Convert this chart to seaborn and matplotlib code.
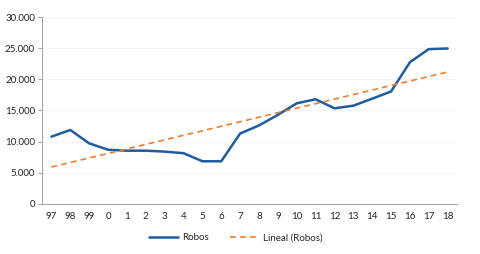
import numpy as np
import pandas as pd
import matplotlib
matplotlib.use("Agg")
import matplotlib.pyplot as plt
import seaborn as sns
from matplotlib.ticker import FuncFormatter, FixedLocator
from matplotlib.lines import Line2D

# Data
years = ["97", "98", "99", "0", "1", "2", "3", "4", "5", "6", "7",
         "8", "9", "10", "11", "12", "13", "14", "15", "16", "17", "18"]
robos = [10800, 11870, 9730, 8700, 8550, 8550, 8400, 8150, 6850, 6850, 11300,
         12600, 14300, 16150, 16800, 15350, 15770, 16900, 18050, 22750, 24850, 24950]

BLUE = "#1F5B9F"
ORANGE = "#ED7D31"


def main():
    sns.set_theme(style="white")
    plt.rcParams["font.family"] = ["Lato", "DejaVu Sans"]

    df = pd.DataFrame({"idx": np.arange(len(years)), "robos": robos})

    fig = plt.figure(figsize=(4.81, 2.54), dpi=100)
    ax = fig.add_axes([0.0873, 0.197, 0.863, 0.736])

    sns.lineplot(data=df, x="idx", y="robos", color=BLUE, linewidth=1.8, ax=ax)
    # linear trend line, as Excel's "Lineal" trendline
    sns.regplot(data=df, x="idx", y="robos", scatter=False, ci=None, ax=ax,
                truncate=True,
                line_kws={"color": ORANGE, "linewidth": 1.2, "linestyle": (0, (3.5, 2.5))})

    ax.set_xlim(-0.5, len(years) - 0.5)
    ax.set_ylim(0, 30000)
    ax.set_yticks(np.arange(0, 30001, 5000))
    ax.yaxis.set_major_formatter(FuncFormatter(lambda v, p: f"{int(v):,}".replace(",", ".")))
    ax.grid(axis="y", color="#F3F3F3", linewidth=0.8)
    ax.set_axisbelow(True)

    ax.set_xticks(np.arange(len(years)))
    ax.set_xticklabels(years)
    ax.xaxis.set_minor_locator(FixedLocator(np.arange(-0.5, len(years), 1)))
    ax.tick_params(axis="x", which="major", length=0, labelsize=7, pad=6, colors="#222222")
    ax.tick_params(axis="x", which="minor", length=3, width=0.8, color="#A6A6A6", direction="out")
    ax.tick_params(axis="y", which="major", length=3, width=0.8, color="#A6A6A6",
                   labelsize=7, pad=2, left=True)
    ax.tick_params(axis="y", colors="#A6A6A6", labelcolor="#222222")

    for s in ["top", "right"]:
        ax.spines[s].set_visible(False)
    for s in ["left", "bottom"]:
        ax.spines[s].set_color("#A6A6A6")
        ax.spines[s].set_linewidth(0.8)

    ax.set_xlabel("")
    ax.set_ylabel("")

    handles = [Line2D([], [], color=BLUE, linewidth=1.8),
               Line2D([], [], color=ORANGE, linewidth=1.2, linestyle=(0, (3.5, 2.5)))]
    fig.legend(handles, ["Robos", "Lineal (Robos)"], loc="center",
               bbox_to_anchor=(0.49, 0.063), ncol=2, frameon=False, fontsize=7,
               handlelength=3.0, columnspacing=2.2, handletextpad=0.4)

    fig.savefig("out.png", dpi=100)
    plt.close(fig)


if __name__ == "__main__":
    main()
